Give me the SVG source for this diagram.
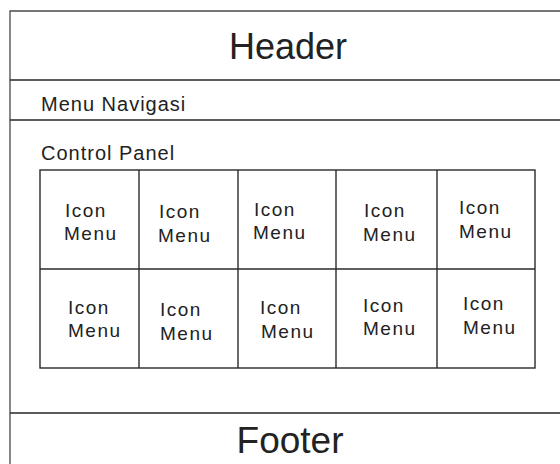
<svg xmlns="http://www.w3.org/2000/svg" width="560" height="464" viewBox="0 0 560 464">
  <style>
    .frame { stroke: #262626; stroke-width: 1.6; fill: none; }
    .edge { stroke: #4a4a4a; stroke-width: 1.3; fill: none; }
    .cell { stroke: #2a2a2a; stroke-width: 1.4; fill: none; }
    .big { font-family: "Liberation Sans", Arial, sans-serif; fill: #222; text-anchor: middle; }
    .label { font-family: "Liberation Sans", Arial, sans-serif; font-size: 20px; fill: #222; letter-spacing: 1px; }
    .icon { font-family: "Liberation Sans", Arial, sans-serif; font-size: 19px; fill: #222; letter-spacing: 1.5px; }
  </style>
  <rect width="560" height="464" fill="#ffffff"/>

  <!-- page outline and section dividers -->
  <g id="layout">
    <path class="edge" d="M560 11 H10 V464"/>
    <line class="frame" x1="10" y1="80" x2="560" y2="80"/>
    <line class="frame" x1="10" y1="120" x2="560" y2="120"/>
    <line class="frame" x1="10" y1="413" x2="560" y2="413"/>
  </g>

  <g id="header">
    <text class="big" x="288" y="59" font-size="36">Header</text>
  </g>

  <g id="menu-navigasi">
    <text class="label" x="41" y="111">Menu Navigasi</text>
  </g>

  <g id="control-panel">
    <text class="label" x="41" y="160">Control Panel</text>
    <!-- icon grid -->
    <rect class="cell" x="40" y="170" width="495" height="198"/>
    <line class="cell" x1="40" y1="269" x2="535" y2="269"/>
    <line class="cell" x1="139" y1="170" x2="139" y2="368"/>
    <line class="cell" x1="238" y1="170" x2="238" y2="368"/>
    <line class="cell" x1="336" y1="170" x2="336" y2="368"/>
    <line class="cell" x1="437" y1="170" x2="437" y2="368"/>
  </g>

  <g id="icon-1-1"><text class="icon" x="65" y="217">Icon</text><text class="icon" x="64" y="240">Menu</text></g>
  <g id="icon-1-2"><text class="icon" x="159" y="218">Icon</text><text class="icon" x="158" y="242">Menu</text></g>
  <g id="icon-1-3"><text class="icon" x="254" y="216">Icon</text><text class="icon" x="253" y="239">Menu</text></g>
  <g id="icon-1-4"><text class="icon" x="364" y="217">Icon</text><text class="icon" x="363" y="241">Menu</text></g>
  <g id="icon-1-5"><text class="icon" x="459" y="214">Icon</text><text class="icon" x="459" y="238">Menu</text></g>

  <g id="icon-2-1"><text class="icon" x="68" y="314">Icon</text><text class="icon" x="68" y="337">Menu</text></g>
  <g id="icon-2-2"><text class="icon" x="160" y="316">Icon</text><text class="icon" x="160" y="340">Menu</text></g>
  <g id="icon-2-3"><text class="icon" x="260" y="314">Icon</text><text class="icon" x="261" y="338">Menu</text></g>
  <g id="icon-2-4"><text class="icon" x="363" y="312">Icon</text><text class="icon" x="363" y="335">Menu</text></g>
  <g id="icon-2-5"><text class="icon" x="463" y="310">Icon</text><text class="icon" x="463" y="334">Menu</text></g>

  <g id="footer">
    <text class="big" x="290" y="453" font-size="37">Footer</text>
  </g>
</svg>
